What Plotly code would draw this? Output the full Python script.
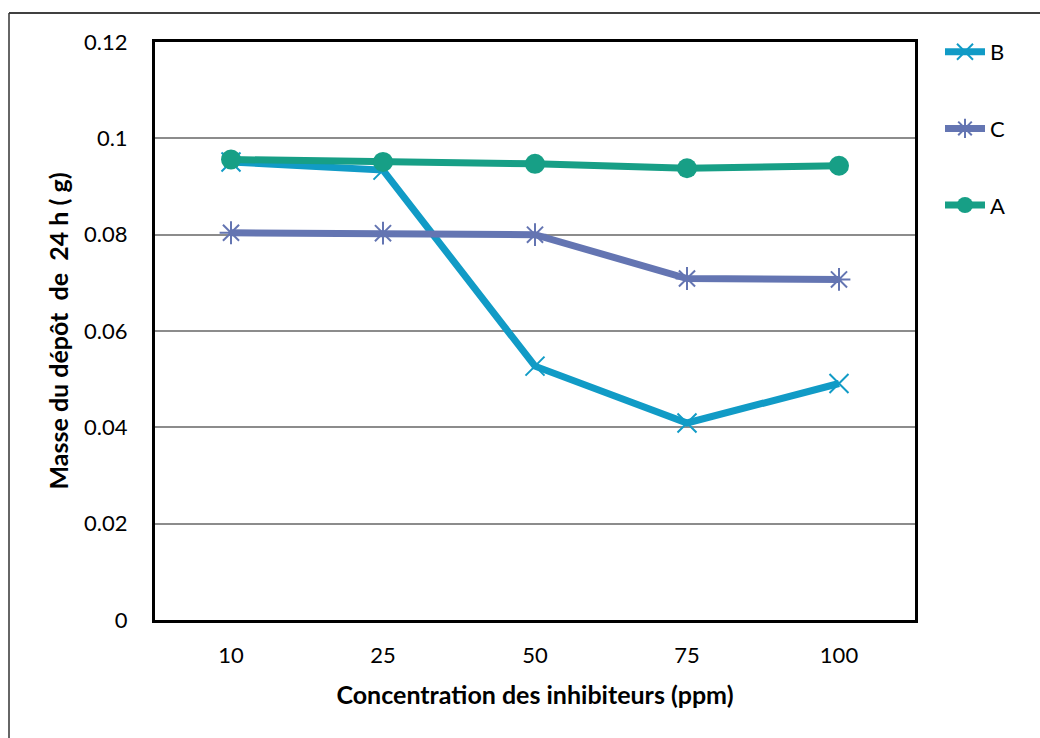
import plotly.graph_objects as go

categories = ["10", "25", "50", "75", "100"]
B = [0.0951, 0.0934, 0.0527, 0.0409, 0.0491]
C = [0.0804, 0.0803, 0.0800, 0.0709, 0.0707]
A = [0.0956, 0.0951, 0.0947, 0.0938, 0.0943]
y_ticks = [0, 0.02, 0.04, 0.06, 0.08, 0.1, 0.12]

W, H = 1040, 738
L, R, T, Bm = 155, 125, 42, 118
pw, ph = W - L - R, H - T - Bm

font = "Lato, 'Open Sans', sans-serif"
fig = go.Figure()
fig.add_trace(go.Scatter(x=categories, y=B, name="B", mode="lines+markers",
                         line=dict(color="#119BC6", width=7),
                         marker=dict(symbol="x-thin-open", size=19, line=dict(color="#119BC6", width=2)),
                         legendgroup="B"))
fig.add_trace(go.Scatter(x=categories, y=C, name="C", mode="lines+markers",
                         line=dict(color="#6475B2", width=7),
                         marker=dict(symbol="asterisk-open", size=19, line=dict(color="#6475B2", width=2)),
                         legendgroup="C"))
fig.add_trace(go.Scatter(x=categories, y=A, name="A", mode="lines+markers",
                         line=dict(color="#179F86", width=7),
                         marker=dict(symbol="circle", size=20, color="#179F86"),
                         legendgroup="A"))

px2x = lambda px: (px - L) / pw
px2y = lambda py: (H - Bm - py) / ph

shapes = [
    dict(type="line", xref="paper", yref="paper", x0=px2x(9), x1=px2x(1045), y0=px2y(13), y1=px2y(13),
         line=dict(color="black", width=1.5)),
    dict(type="line", xref="paper", yref="paper", x0=px2x(9), x1=px2x(9), y0=px2y(13), y1=px2y(745),
         line=dict(color="#333333", width=1.5)),
]

fig.update_layout(
    width=W, height=H,
    margin=dict(l=L, r=R, t=T, b=Bm),
    paper_bgcolor="white", plot_bgcolor="white",
    font=dict(family=font, size=22, color="black"),
    showlegend=True,
    legend=dict(x=px2x(940), y=px2y(31), xanchor="left", yanchor="top",
                tracegroupgap=45, font=dict(size=22), itemwidth=40,
                bgcolor="rgba(0,0,0,0)"),
    xaxis=dict(type="category", range=[-0.5, 4.5], showgrid=False,
               showline=True, linecolor="black", linewidth=3, mirror=True,
               ticks="", tickfont=dict(size=22), ticklabelstandoff=14,
               title=dict(text="<b>Concentration des inhibiteurs (ppm)</b>", font=dict(size=25), standoff=20)),
    yaxis=dict(range=[0, 0.12], tickvals=y_ticks, ticktext=["0", "0.02", "0.04", "0.06", "0.08", "0.1", "0.12"],
               showgrid=True, gridcolor="#8C8C8C", gridwidth=1.5,
               showline=True, linecolor="black", linewidth=3, mirror=True,
               ticks="", tickfont=dict(size=22), zeroline=False, ticklabelstandoff=20,
               title=dict(text="<b>Masse du dépôt  de  24 h ( g)</b>", font=dict(size=25), standoff=9)),
    shapes=shapes,
)

fig.write_html("out.html")
